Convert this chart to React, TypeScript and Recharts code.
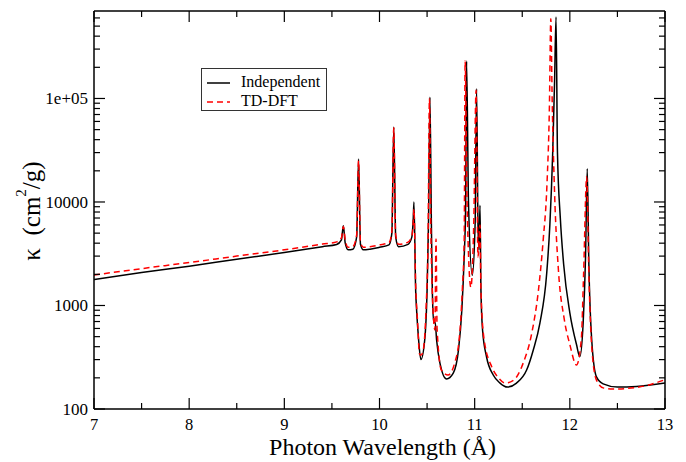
import { LineChart, Line, XAxis, YAxis, Legend, ReferenceLine } from "recharts";

// Independent-particle opacity (black, solid)
const wavelengthIndep = [
  7.0, 7.5, 8.0, 8.5, 9.0, 9.4, 9.55, 9.6, 9.62, 9.64, 9.67, 9.72, 9.76, 9.78, 9.8, 9.83,
  9.9, 10.0, 10.1, 10.13, 10.15, 10.17, 10.2, 10.3, 10.34, 10.355, 10.362, 10.38, 10.39,
  10.41, 10.435, 10.475, 10.5, 10.515, 10.53, 10.545, 10.555, 10.57, 10.585, 10.6, 10.635,
  10.705, 10.775, 10.83, 10.865, 10.89, 10.905, 10.915, 10.935, 10.975, 11.005, 11.02,
  11.035, 11.045, 11.056, 11.066, 11.083, 11.125, 11.195, 11.266, 11.343, 11.44, 11.546,
  11.616, 11.686, 11.757, 11.79, 11.82, 11.84, 11.855, 11.87, 11.9, 11.935, 12.0, 12.07,
  12.105, 12.14, 12.165, 12.183, 12.2, 12.23, 12.28, 12.35, 12.5, 12.7, 13.0,
];
const kappaIndep = [
  1780, 2080, 2400, 2800, 3250, 3700, 3880, 4300, 5900, 4000, 3450, 3500, 4600, 26000, 3900, 3450,
  3500, 3650, 3850, 5000, 53000, 4600, 3700, 3900, 4600, 7000, 10000, 1400, 900,
  480, 300, 464, 1400, 6300, 103000, 6300, 1400, 680, 690, 464, 278,
  195, 222, 372, 900, 2950, 9000, 230000, 10000, 1960, 6300, 124000,
  6000, 3450, 9300, 1400, 580, 318, 213, 178, 163, 178, 238,
  372, 680, 2050, 6000, 30000, 150000, 612000, 30000, 7000, 2500, 850, 420,
  320, 680, 2950, 21000, 2500, 464, 204, 175, 163, 165, 178,
];

// TD-DFT opacity (red, dashed)
const wavelengthTddft = [
  7.0, 7.5, 8.0, 8.5, 9.0, 9.4, 9.55, 9.6, 9.62, 9.64, 9.67, 9.72, 9.76, 9.78, 9.8, 9.83,
  9.9, 10.0, 10.1, 10.13, 10.15, 10.17, 10.2, 10.3, 10.34, 10.355, 10.362, 10.38, 10.4,
  10.42, 10.435, 10.46, 10.49, 10.51, 10.525, 10.54, 10.552, 10.57, 10.582, 10.594, 10.605,
  10.65, 10.72, 10.79, 10.84, 10.87, 10.89, 10.9, 10.92, 10.96, 10.99, 11.015, 11.035,
  11.056, 11.066, 11.1, 11.18, 11.25, 11.32, 11.41, 11.51, 11.6, 11.67, 11.72, 11.76,
  11.785, 11.8, 11.815, 11.84, 11.88, 11.94, 12.0, 12.07, 12.12, 12.145, 12.177, 12.2,
  12.23, 12.28, 12.35, 12.45, 12.6, 12.8, 13.0,
];
const kappaTddft = [
  1970, 2270, 2600, 3000, 3450, 3920, 4120, 4500, 5800, 4300, 3650, 3700, 4800, 25000, 4100, 3650,
  3700, 3850, 4050, 5200, 52000, 4800, 3900, 4100, 4700, 6500, 8500, 1600, 700,
  340, 330, 372, 975, 4300, 100000, 5000, 1650, 700, 580, 4400, 600,
  238, 213, 278, 500, 1400, 4300, 230000, 10000, 1500, 6000, 120000, 2950,
  6000, 1400, 464, 255, 200, 178, 190, 278, 540, 1400, 4300, 15000,
  80000, 590000, 90000, 12000, 2200, 750, 420, 266, 464, 2050, 17500, 2000,
  400, 190, 160, 156, 158, 168, 192,
];

const xTicks = [7, 7.5, 8, 8.5, 9, 9.5, 10, 10.5, 11, 11.5, 12, 12.5, 13];
const yTicks = [
  100, 200, 300, 400, 500, 600, 700, 800, 900,
  1000, 2000, 3000, 4000, 5000, 6000, 7000, 8000, 9000,
  10000, 20000, 30000, 40000, 50000, 60000, 70000, 80000, 90000,
  100000, 200000, 300000, 400000, 500000, 600000,
];
const yTickLabels: Record<number, string> = {
  100: "100",
  1000: "1000",
  10000: "10000",
  100000: "1e+05",
};

const indepData = wavelengthIndep.map((x, i) => ({ x, y: kappaIndep[i] }));
const tddftData = wavelengthTddft.map((x, i) => ({ x, y: kappaTddft[i] }));

const FONT = "'Liberation Serif', 'DejaVu Serif', serif";
const PLOT_LEFT = 94;
const PLOT_RIGHT = 665;
const PLOT_TOP = 11;
const PLOT_BOTTOM = 409;

function YTick(props: any) {
  const { y, payload } = props;
  const label = yTickLabels[payload.value];
  const len = label ? 11 : 6;
  return (
    <g>
      <line x1={PLOT_LEFT} x2={PLOT_LEFT + len} y1={y} y2={y} stroke="#000" strokeWidth={1.2} />
      <line x1={PLOT_RIGHT} x2={PLOT_RIGHT - len} y1={y} y2={y} stroke="#000" strokeWidth={1.2} />
      {label && (
        <text x={88} y={y} dy="0.35em" textAnchor="end" fontSize={17} fontFamily={FONT} fill="#000">
          {label}
        </text>
      )}
    </g>
  );
}

function XTick(props: any) {
  const { x, payload } = props;
  const major = Number.isInteger(payload.value);
  const len = major ? 11 : 6;
  return (
    <g>
      <line x1={x} x2={x} y1={PLOT_BOTTOM} y2={PLOT_BOTTOM - len} stroke="#000" strokeWidth={1.2} />
      <line x1={x} x2={x} y1={PLOT_TOP} y2={PLOT_TOP + len} stroke="#000" strokeWidth={1.2} />
      {major && (
        <text x={x} y={430} textAnchor="middle" fontSize={16.5} fontFamily={FONT} fill="#000">
          {payload.value}
        </text>
      )}
    </g>
  );
}

function XTitle() {
  return (
    <text x={(PLOT_LEFT + PLOT_RIGHT) / 2 + 3} y={455} textAnchor="middle" fontSize={24} fontFamily={FONT} fill="#000">
      Photon Wavelength (Å)
    </text>
  );
}

function YTitle() {
  return (
    <text transform="translate(40, 211) rotate(-90)" x={0} y={0} textAnchor="middle" fontSize={25} fontFamily={FONT} fill="#000">
      {"κ\u00a0\u00a0(cm"}
      <tspan dy={-14} fontSize={15}>2</tspan>
      <tspan dy={14}>/g)</tspan>
    </text>
  );
}

function LegendBox(props: any) {
  const items = props.payload || [];
  return (
    <svg width={126} height={43} style={{ display: "block" }}>
      <rect x={0.5} y={0.5} width={125} height={42} fill="#fff" stroke="#333" strokeWidth={1} />
      {items.map((item: any, i: number) => {
        const cy = 15 + i * 19;
        return (
          <g key={item.value}>
            <line
              x1={6}
              x2={29}
              y1={cy}
              y2={cy}
              stroke={item.color}
              strokeWidth={1.5}
              strokeDasharray={item.payload?.strokeDasharray}
            />
            <text x={40} y={cy + 3.5} fontSize={16} fontFamily={FONT} fill="#000">
              {item.value}
            </text>
          </g>
        );
      })}
    </svg>
  );
}

export default function App() {
  return (
    <div style={{ position: "absolute", left: 0, top: 0, background: "#fff" }}>
      <LineChart width={686} height={462} margin={{ top: PLOT_TOP, right: 686 - PLOT_RIGHT, bottom: 0, left: 0 }}>
        <XAxis
          type="number"
          dataKey="x"
          domain={[7, 13]}
          ticks={xTicks}
          interval={0}
          allowDataOverflow
          height={462 - PLOT_BOTTOM}
          tickLine={false}
          axisLine={{ stroke: "#000", strokeWidth: 1.5 }}
          tick={<XTick />}
          label={<XTitle />}
        />
        <YAxis
          type="number"
          dataKey="y"
          scale="log"
          domain={[100, 700000]}
          ticks={yTicks}
          interval={0}
          allowDataOverflow
          width={PLOT_LEFT}
          tickLine={false}
          axisLine={{ stroke: "#000", strokeWidth: 1.5 }}
          tick={<YTick />}
          label={<YTitle />}
        />
        <ReferenceLine y={700000} stroke="#000" strokeWidth={1.5} />
        <ReferenceLine x={13} stroke="#000" strokeWidth={1.5} />
        <Legend
          layout="vertical"
          verticalAlign="middle"
          align="center"
          content={<LegendBox />}
          wrapperStyle={{ left: 201, top: 68, width: 126, height: 43 }}
        />
        <Line
          data={indepData}
          dataKey="y"
          name="Independent"
          type="monotone"
          stroke="#000"
          strokeWidth={1.5}
          dot={false}
          isAnimationActive={false}
        />
        <Line
          data={tddftData}
          dataKey="y"
          name="TD-DFT"
          type="monotone"
          stroke="#ff0000"
          strokeWidth={1.5}
          strokeDasharray="6 4"
          dot={false}
          isAnimationActive={false}
        />
      </LineChart>
    </div>
  );
}
